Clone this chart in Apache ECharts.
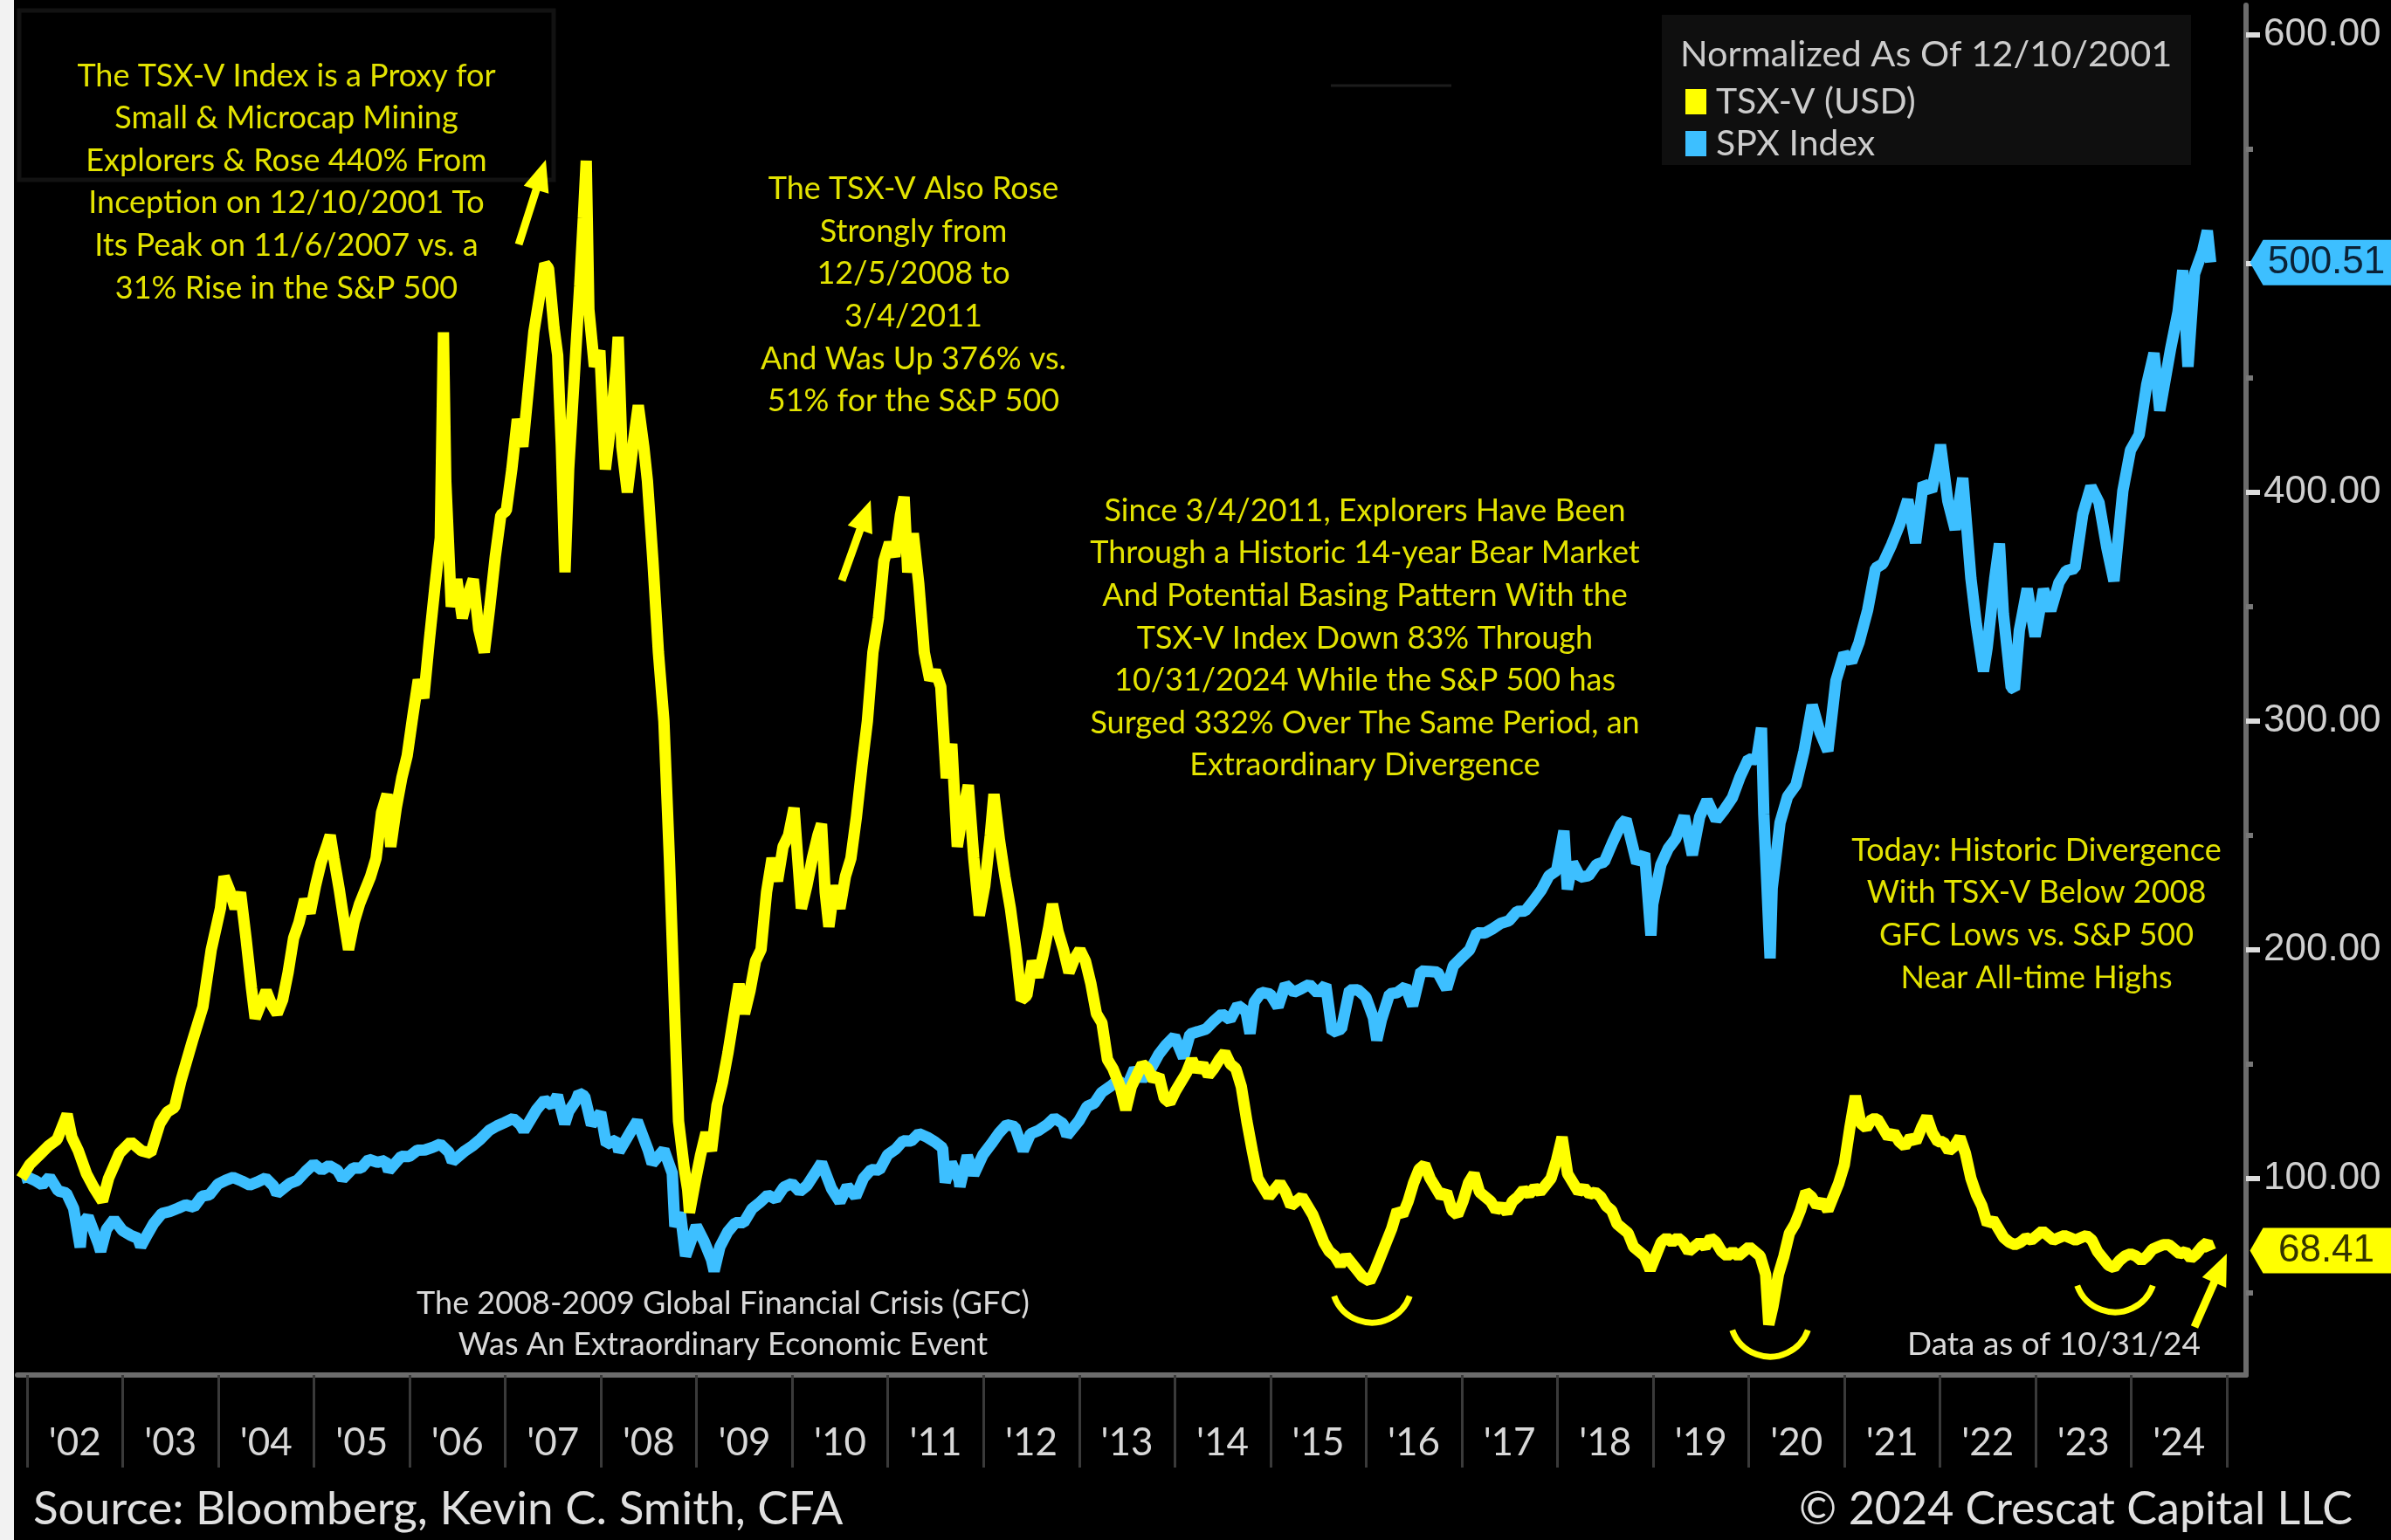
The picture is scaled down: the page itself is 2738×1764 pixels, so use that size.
<!DOCTYPE html>
<html><head><meta charset="utf-8">
<script src="https://cdn.jsdelivr.net/npm/echarts@6/dist/echarts.min.js"></script>
<style>html,body{margin:0;padding:0;background:#000;}#c{width:2738px;height:1764px;}</style>
</head><body><div id="c"></div>
<script>
// ---------------- DATA ----------------
const tsxDates = [
'2001-12-10',
'2002-01-11','2002-02-15','2002-03-22','2002-04-26','2002-06-03','2002-06-21','2002-07-16','2002-08-16','2002-09-13','2002-10-16','2002-11-08','2002-12-20',
'2003-02-01','2003-03-14','2003-04-18','2003-05-23','2003-06-20','2003-07-18','2003-08-12','2003-09-24','2003-11-03','2003-12-05',
'2004-01-09','2004-01-23','2004-02-13','2004-03-05','2004-03-26','2004-04-16','2004-05-07','2004-05-21','2004-06-11','2004-07-02','2004-07-23','2004-08-13','2004-09-03','2004-09-24','2004-10-15','2004-11-05','2004-11-26','2004-12-17',
'2005-01-07','2005-01-28','2005-02-18','2005-03-04','2005-03-18','2005-04-08','2005-04-29','2005-05-13','2005-06-03','2005-06-24','2005-07-15','2005-08-05','2005-08-26','2005-09-16','2005-10-07','2005-10-21','2005-11-11','2005-12-02','2005-12-23',
'2006-01-13','2006-02-03','2006-02-24','2006-03-17','2006-04-07','2006-04-28','2006-05-10','2006-05-19','2006-06-09','2006-06-30','2006-07-21','2006-08-11','2006-09-01','2006-09-22','2006-10-13','2006-11-03','2006-11-24','2006-12-15',
'2007-01-05','2007-01-26','2007-02-16','2007-03-09','2007-03-30','2007-04-20','2007-05-11','2007-06-01','2007-06-15','2007-07-06','2007-07-20','2007-08-03','2007-08-17','2007-08-31','2007-09-21','2007-10-12','2007-10-26','2007-11-06','2007-11-16','2007-12-07','2007-12-28',
'2008-01-18','2008-02-08','2008-02-29','2008-03-07','2008-03-21','2008-04-11','2008-05-02','2008-05-23','2008-06-13','2008-06-27','2008-07-18','2008-08-08','2008-08-29','2008-09-19','2008-10-10','2008-10-24','2008-11-14','2008-11-28','2008-12-05','2008-12-26',
'2009-01-16','2009-02-06','2009-02-27','2009-03-20','2009-04-10','2009-05-01','2009-05-22','2009-06-12','2009-07-03','2009-07-24','2009-08-14','2009-09-04','2009-09-25','2009-10-16','2009-11-06','2009-11-27','2009-12-18',
'2010-01-08','2010-01-22','2010-02-05','2010-02-26','2010-03-19','2010-04-09','2010-04-23','2010-05-07','2010-05-21','2010-06-11','2010-07-02','2010-07-23','2010-08-13','2010-09-03','2010-09-24','2010-10-15','2010-11-05','2010-11-26','2010-12-17',
'2011-01-07','2011-01-28','2011-02-18','2011-03-04','2011-03-18','2011-04-08','2011-04-29','2011-05-20','2011-06-10','2011-07-01','2011-07-22','2011-08-12','2011-09-02','2011-09-23','2011-10-14','2011-11-04','2011-11-25','2011-12-16',
'2012-01-06','2012-01-27','2012-02-10','2012-03-02','2012-03-23','2012-04-13','2012-05-04','2012-05-25','2012-06-15','2012-07-06','2012-07-27','2012-08-17','2012-09-07','2012-09-21','2012-10-12','2012-11-02','2012-11-23','2012-12-14',
'2013-01-04','2013-01-25','2013-02-15','2013-03-08','2013-03-29','2013-04-19','2013-05-10','2013-06-07','2013-06-28','2013-07-19','2013-08-09','2013-08-30','2013-09-20','2013-10-11','2013-11-01','2013-11-22','2013-12-13',
'2014-01-03','2014-01-24','2014-02-14','2014-03-07','2014-03-28','2014-04-18','2014-05-09','2014-05-30','2014-06-20','2014-07-11','2014-08-01','2014-08-22','2014-09-12','2014-10-03','2014-10-24','2014-11-14','2014-12-05','2014-12-26',
'2015-01-16','2015-02-06','2015-02-27','2015-03-20','2015-04-10','2015-05-01','2015-05-22','2015-06-12','2015-07-03','2015-07-24','2015-08-14','2015-09-04','2015-09-25','2015-10-16','2015-11-06','2015-11-27','2015-12-18',
'2016-01-15','2016-02-05','2016-02-26','2016-03-18','2016-04-08','2016-04-29','2016-05-20','2016-06-10','2016-07-01','2016-07-22','2016-08-12','2016-09-02','2016-09-23','2016-10-14','2016-11-04','2016-11-25','2016-12-16',
'2017-01-06','2017-01-27','2017-02-17','2017-03-10','2017-03-31','2017-04-21','2017-05-12','2017-06-02','2017-06-23','2017-07-14','2017-08-04','2017-08-25','2017-09-15','2017-10-06','2017-10-27','2017-11-17','2017-12-08','2017-12-29',
'2018-01-19','2018-02-09','2018-03-02','2018-03-23','2018-04-13','2018-05-04','2018-05-25','2018-06-15','2018-07-06','2018-07-27','2018-08-17','2018-09-07','2018-09-28','2018-10-19','2018-11-09','2018-11-30','2018-12-21',
'2019-01-11','2019-02-01','2019-02-22','2019-03-15','2019-04-05','2019-04-26','2019-05-17','2019-06-07','2019-06-28','2019-07-19','2019-08-09','2019-08-30','2019-09-20','2019-10-11','2019-11-01','2019-11-22','2019-12-13',
'2020-01-03','2020-01-24','2020-02-14','2020-03-06','2020-03-18','2020-04-03','2020-04-24','2020-05-15','2020-06-05','2020-06-26','2020-07-17','2020-08-07','2020-08-28','2020-09-18','2020-10-09','2020-10-30','2020-11-20','2020-12-11',
'2021-01-01','2021-01-22','2021-02-12','2021-03-05','2021-03-26','2021-04-16','2021-05-07','2021-05-28','2021-06-18','2021-07-09','2021-07-30','2021-08-20','2021-09-10','2021-10-01','2021-10-22','2021-11-12','2021-12-03','2021-12-24',
'2022-01-14','2022-02-04','2022-02-25','2022-03-18','2022-04-08','2022-04-29','2022-05-20','2022-06-10','2022-07-01','2022-07-22','2022-08-12','2022-09-02','2022-09-23','2022-10-14','2022-11-04','2022-11-25','2022-12-16',
'2023-01-06','2023-01-27','2023-02-17','2023-03-10','2023-03-31','2023-04-21','2023-05-12','2023-06-02','2023-06-23','2023-07-14','2023-08-04','2023-08-25','2023-09-15','2023-10-06','2023-10-27','2023-11-17','2023-12-08','2023-12-29',
'2024-01-19','2024-02-09','2024-03-01','2024-03-22','2024-04-12','2024-05-03','2024-05-24','2024-06-14','2024-07-05','2024-07-26','2024-08-16','2024-09-06','2024-09-27','2024-10-18','2024-10-31'
];
const tsxValues = [
100,
106,110,114,117,128,118,112,102,96,90,100,111,
116,112,111,124,129,131,143,160,175,200,
218,232,226,218,225,205,183,170,176,182,176,172,178,190,205,212,222,216,
228,238,245,250,240,226,210,200,212,220,226,232,240,260,268,245,262,275,285,
302,318,310,335,358,380,470,405,350,362,345,355,362,340,330,350,372,390,
392,410,432,420,445,470,485,500,498,472,460,420,365,410,450,490,520,545,480,455,462,
410,430,455,468,420,400,420,438,420,405,370,330,300,240,170,125,105,95,85,98,
110,120,112,132,142,155,170,185,172,182,195,200,225,240,230,245,250,
262,240,218,228,240,250,255,225,210,228,218,232,240,258,280,300,330,345,370,
378,372,390,398,365,382,360,330,318,322,315,275,290,245,260,272,240,215,
228,250,268,248,232,218,200,178,180,195,188,198,210,220,208,200,190,196,
200,195,185,172,168,152,148,140,130,140,145,150,148,143,145,135,133,
138,142,146,152,147,150,145,148,152,155,150,148,140,125,112,100,96,92,
95,98,94,88,90,92,88,84,78,72,68,66,62,66,63,60,57,
55,60,66,72,78,86,84,90,98,104,106,100,96,92,94,86,84,
90,98,102,94,92,90,86,88,85,90,92,95,93,96,94,97,100,108,
118,102,98,94,96,93,94,92,88,86,80,78,76,70,68,66,60,
66,72,74,72,74,72,68,70,72,70,74,72,68,66,68,66,68,
70,68,66,58,36,44,58,66,76,80,86,94,92,88,90,86,92,98,
106,122,136,124,122,126,126,122,118,120,116,114,118,116,122,127,120,116,
116,112,114,118,111,100,93,88,80,82,78,74,72,71,72,74,73,
75,77,75,73,74,75,74,73,74,75,73,68,65,62,61,64,66,67,
66,64,66,69,70,71,71,69,67,68,65,67,70,72,68.41
];

const spxDates = [
'2001-12-10','2001-12-31',
'2002-01-31','2002-02-28','2002-03-28','2002-04-30','2002-05-31','2002-06-28','2002-07-23','2002-07-31','2002-08-22','2002-09-30','2002-10-09','2002-10-31','2002-11-29','2002-12-31',
'2003-01-31','2003-02-28','2003-03-11','2003-03-31','2003-04-30','2003-05-30','2003-06-30','2003-07-31','2003-08-29','2003-09-30','2003-10-31','2003-11-28','2003-12-31',
'2004-01-30','2004-02-27','2004-03-31','2004-04-30','2004-05-28','2004-06-30','2004-07-30','2004-08-12','2004-09-30','2004-10-29','2004-11-30','2004-12-31',
'2005-01-31','2005-02-28','2005-03-31','2005-04-20','2005-05-31','2005-06-30','2005-07-29','2005-08-31','2005-09-30','2005-10-13','2005-11-30','2005-12-30',
'2006-01-31','2006-02-28','2006-03-31','2006-04-28','2006-05-31','2006-06-13','2006-07-31','2006-08-31','2006-09-29','2006-10-31','2006-11-30','2006-12-29',
'2007-01-31','2007-02-28','2007-03-13','2007-04-30','2007-05-31','2007-06-29','2007-07-19','2007-08-16','2007-08-31','2007-09-28','2007-10-09','2007-10-31','2007-11-26','2007-12-31',
'2008-01-22','2008-02-29','2008-03-10','2008-04-30','2008-05-19','2008-06-30','2008-07-15','2008-08-29','2008-09-30','2008-10-10','2008-10-31','2008-11-20','2008-12-31',
'2009-01-30','2009-02-27','2009-03-09','2009-03-31','2009-04-30','2009-05-29','2009-06-30','2009-07-31','2009-08-31','2009-09-30','2009-10-30','2009-11-30','2009-12-31',
'2010-01-29','2010-02-26','2010-03-31','2010-04-23','2010-05-31','2010-07-02','2010-07-30','2010-08-31','2010-09-30','2010-10-29','2010-11-30','2010-12-31',
'2011-01-31','2011-02-28','2011-03-31','2011-04-29','2011-05-31','2011-06-30','2011-07-29','2011-08-08','2011-08-31','2011-09-30','2011-10-03','2011-10-31','2011-11-25','2011-12-30',
'2012-01-31','2012-02-29','2012-03-30','2012-04-30','2012-06-01','2012-06-29','2012-07-31','2012-08-31','2012-09-28','2012-10-31','2012-11-15','2012-12-31',
'2013-01-31','2013-02-28','2013-03-28','2013-04-30','2013-05-31','2013-06-24','2013-07-31','2013-08-30','2013-09-30','2013-10-31','2013-11-29','2013-12-31',
'2014-02-03','2014-02-28','2014-03-31','2014-04-30','2014-05-30','2014-06-30','2014-07-31','2014-08-29','2014-09-30','2014-10-15','2014-10-31','2014-11-28','2014-12-31',
'2015-01-30','2015-02-27','2015-03-31','2015-04-30','2015-05-29','2015-06-30','2015-07-31','2015-08-25','2015-09-29','2015-10-30','2015-11-30','2015-12-31',
'2016-01-29','2016-02-11','2016-02-29','2016-03-31','2016-04-29','2016-05-31','2016-06-27','2016-07-29','2016-08-31','2016-09-30','2016-11-04','2016-11-30','2016-12-30',
'2017-01-31','2017-02-28','2017-03-31','2017-04-28','2017-05-31','2017-06-30','2017-07-31','2017-08-31','2017-09-29','2017-10-31','2017-11-30','2017-12-29',
'2018-01-26','2018-02-08','2018-02-28','2018-03-29','2018-04-30','2018-05-31','2018-06-29','2018-07-31','2018-08-31','2018-09-20','2018-10-31','2018-11-30','2018-12-24','2018-12-31',
'2019-01-31','2019-02-28','2019-03-29','2019-04-30','2019-05-31','2019-06-28','2019-07-26','2019-08-30','2019-09-30','2019-10-31','2019-11-29','2019-12-31',
'2020-01-31','2020-02-19','2020-02-28','2020-03-23','2020-03-31','2020-04-30','2020-05-29','2020-06-30','2020-07-31','2020-08-31','2020-09-30','2020-10-30','2020-11-30','2020-12-31',
'2021-01-29','2021-02-26','2021-03-31','2021-04-30','2021-05-28','2021-06-30','2021-07-30','2021-08-31','2021-09-30','2021-10-29','2021-11-30','2021-12-31',
'2022-01-03','2022-01-31','2022-02-28','2022-03-29','2022-04-29','2022-05-20','2022-06-16','2022-06-30','2022-07-29','2022-08-16','2022-08-31','2022-09-30','2022-10-12','2022-10-31','2022-11-30','2022-12-30',
'2023-01-31','2023-02-28','2023-03-31','2023-04-28','2023-05-31','2023-06-30','2023-07-31','2023-08-31','2023-09-29','2023-10-27','2023-11-30','2023-12-29',
'2024-01-31','2024-02-29','2024-03-28','2024-04-19','2024-05-31','2024-06-28','2024-07-16','2024-08-05','2024-08-30','2024-09-30','2024-10-18','2024-10-31'
];
const spxValues = [
100.0,100.7,
99.1,97.1,100.6,94.5,93.6,86.8,69.9,80.0,83.3,71.5,68.1,77.7,82.1,77.2,
75.1,73.8,70.2,74.4,80.4,84.6,85.5,86.9,88.4,87.4,92.2,92.8,97.5,
99.2,100.4,98.8,97.1,98.3,100.1,96.7,93.3,97.8,99.1,103.0,106.3,
103.6,105.6,103.6,99.7,104.6,104.5,108.3,107.0,107.8,103.3,109.6,109.5,
112.3,112.4,113.6,115.0,111.4,107.3,112.0,114.4,117.2,120.9,122.9,124.4,
126.2,123.4,120.8,130.0,134.3,131.9,136.3,123.8,129.3,134.0,137.3,135.9,123.4,128.8,
114.9,116.8,111.7,121.6,125.1,112.3,106.5,112.5,102.3,78.9,85.0,66.0,79.2,
72.4,64.5,59.4,70.0,76.6,80.6,80.6,86.6,89.5,92.7,90.9,96.1,97.8,
94.2,96.8,102.6,106.8,95.5,89.7,96.6,92.0,100.1,103.8,103.6,110.3,
112.8,116.4,116.3,119.6,118.0,115.9,113.3,98.2,106.9,99.2,96.4,109.9,101.6,110.3,
115.1,119.8,123.5,122.6,112.1,119.5,121.0,123.4,126.4,123.9,118.7,125.1,
131.4,132.9,137.6,140.2,143.1,138.0,147.9,143.3,147.6,154.1,158.4,162.1,
152.8,163.1,164.2,165.3,168.8,171.9,169.4,175.7,173.0,163.3,177.0,181.4,180.6,
175.0,184.7,181.4,183.0,184.8,181.0,184.6,163.9,165.3,182.4,182.5,179.3,
170.2,160.4,169.5,180.7,181.2,183.9,175.5,190.7,190.5,190.2,182.9,192.9,196.4,
199.9,207.4,207.3,209.1,211.6,212.6,216.7,216.9,221.0,225.9,232.3,234.6,
252.0,226.4,238.1,231.7,232.3,237.3,238.4,247.0,254.6,257.0,237.9,242.1,206.2,219.9,
237.2,244.2,248.6,258.4,241.4,258.1,265.4,256.7,261.2,266.5,275.5,283.4,
283.0,297.0,259.1,196.2,226.8,255.5,267.0,272.0,286.9,307.0,295.0,286.9,317.7,329.5,
325.8,334.3,348.5,366.8,368.8,377.0,385.5,396.8,377.9,404.0,400.6,418.1,
420.8,396.2,383.7,406.3,362.5,342.2,321.7,332.0,362.3,377.6,346.9,314.6,313.8,339.7,357.9,336.9,
357.6,348.3,360.5,365.7,366.7,390.4,402.6,395.5,376.2,361.2,400.7,418.4,
425.1,447.0,460.9,435.7,463.0,479.0,497.1,454.9,495.5,505.5,514.4,500.51
];

const seriesNames = ['TSX-V (USD)', 'SPX Index'];
const yearTicks = [2002,2003,2004,2005,2006,2007,2008,2009,2010,2011,2012,2013,2014,2015,2016,2017,2018,2019,2020,2021,2022,2023,2024,2025];
const yearLabels = ["'02","'03","'04","'05","'06","'07","'08","'09","'10","'11","'12","'13","'14","'15","'16","'17","'18","'19","'20","'21","'22","'23","'24"];
const yTickValues = [100,200,300,400,500,600];
const yMinorTicks = [50,150,250,350,450,550];

// ---------------- HELPERS ----------------
function toYear(s){const p=s.split('-').map(Number);const t=Date.UTC(p[0],p[1]-1,p[2]);const a=Date.UTC(p[0],0,1),b=Date.UTC(p[0]+1,0,1);return p[0]+(t-a)/(b-a);}
function pairs(d,v){return d.map((s,i)=>[toYear(s),v[i]]);}
const X_MIN = 2001.9, X_MAX = 2025.2, Y_MIN = 14, Y_MAX = 613;
const labelPos = yearLabels.map((_,i)=>yearTicks[i]+0.5);

const tsxData = pairs(tsxDates, tsxValues);
const spxData = pairs(spxDates, spxValues);

const YEL = '#ffff00', BLU = '#3dbfff';
const ANN = '#e3e300', WHT = '#d9d9d9';
const tagPath = 'path://M0,26 L15,0 L175,0 L175,52 L15,52 Z';

function tag(series, color, textColor){
  const last = series[series.length-1][1];
  return {
    silent:true, symbol: tagPath, symbolSize:[175,52], symbolKeepAspect:false, symbolOffset:[92,0],
    itemStyle:{color: color},
    label:{show:true, position:'inside', formatter: p => Number(p.value).toFixed(2), color:textColor, fontSize:44, fontFamily:'Liberation Sans'},
    data:[{coord:[X_MAX, last], value:last}]
  };
}

function arrow(x1,y1,x2,y2){
  const hl=36, hw=30, sw=9;
  const dx=x2-x1, dy=y2-y1, L=Math.hypot(dx,dy), ux=dx/L, uy=dy/L, px=-uy, py=ux;
  const bx=x2-ux*hl, by=y2-uy*hl;
  return {type:'polygon', z:10, shape:{points:[
    [x1+px*sw/2,y1+py*sw/2],[bx+px*sw/2,by+py*sw/2],[bx+px*hw/2,by+py*hw/2],[x2,y2],
    [bx-px*hw/2,by-py*hw/2],[bx-px*sw/2,by-py*sw/2],[x1-px*sw/2,y1-py*sw/2]]}, style:{fill:YEL}};
}
function smile(cx,cy){
  return {type:'arc', z:10, shape:{cx:cx, cy:cy, r:46, startAngle:Math.PI*0.11, endAngle:Math.PI*0.89}, style:{stroke:YEL, lineWidth:7, fill:null}};
}
function txt(x,y,text,opt){
  return {type:'text', z:10, x:x, y:y, style:Object.assign({text:text, fill:ANN, fontSize:36, fontFamily:'Lato', align:'center', verticalAlign:'middle', lineHeight:48.6}, opt||{})};
}

const chart = echarts.init(document.getElementById('c'), null, {renderer:'canvas'});
chart.setOption({
  backgroundColor:'#000',
  animation:false,
  grid:{left:20, right:166, top:6, bottom:189, containLabel:false},
  legend:{
    data: seriesNames, orient:'vertical', left:1925, top:91, itemWidth:24, itemHeight:29, itemGap:7,
    icon:'rect', selectedMode:false,
    textStyle:{color:'#cccccc', fontSize:41, fontFamily:'Lato', padding:[0,0,0,6]}
  },
  xAxis:{
    type:'value', min:X_MIN, max:X_MAX,
    axisLine:{show:true, onZero:false, lineStyle:{color:'#6c6c6c', width:6}},
    axisTick:{show:true, customValues:yearTicks, length:106, lineStyle:{color:'#3a3a3a', width:3}},
    axisLabel:{show:true, customValues:labelPos, margin:56, color:'#d8d8d8', fontSize:44, fontFamily:'Lato',
      formatter: v => yearLabels[Math.round(v - yearTicks[0] - 0.5)] || ''},
    splitLine:{show:false}
  },
  yAxis:[{
    type:'value', position:'right', min:Y_MIN, max:Y_MAX,
    axisLine:{show:true, onZero:false, lineStyle:{color:'#6c6c6c', width:6}},
    axisTick:{show:true, customValues:yTickValues, length:16, lineStyle:{color:'#dddddd', width:6}},
    axisLabel:{show:true, customValues:yTickValues, margin:20, color:'#cfcfcf', fontSize:44, fontFamily:'Liberation Sans',
      formatter: v => Number(v).toFixed(2)},
    splitLine:{show:false}
  },{
    type:'value', position:'right', min:Y_MIN, max:Y_MAX,
    axisLine:{show:false}, axisLabel:{show:false}, splitLine:{show:false},
    axisTick:{show:true, customValues:yMinorTicks, length:8, lineStyle:{color:'#777777', width:6}}
  }],
  series:[
    {name:seriesNames[1], type:'line', data:spxData, showSymbol:false, symbol:'none', z:2,
     itemStyle:{color:BLU}, lineStyle:{color:BLU, width:13, join:'bevel'}, markPoint: tag(spxData, BLU, '#0b2236')},
    {name:seriesNames[0], type:'line', data:tsxData, showSymbol:false, symbol:'none', z:3,
     itemStyle:{color:YEL}, lineStyle:{color:YEL, width:13, join:'bevel'}, markPoint: tag(tsxData, YEL, '#333300')}
  ],
  graphic:[
    {type:'rect', z:0, shape:{x:0, y:0, width:16, height:1764}, style:{fill:'#f2f2f2'}},
    {type:'rect', z:0, shape:{x:22, y:12, width:612, height:194}, style:{fill:null, stroke:'#121212', lineWidth:5}},
    {type:'line', z:0, shape:{x1:1524, y1:98, x2:1662, y2:98}, style:{stroke:'#1c1c1c', lineWidth:3}},
    {type:'rect', z:0, shape:{x:1903, y:17, width:606, height:172}, style:{fill:'#0f0f0f'}},
    txt(1924, 63, 'Normalized As Of 12/10/2001', {fill:'#cccccc', fontSize:41.5, align:'left'}),
    txt(328, 208.5, 'The TSX-V Index is a Proxy for\nSmall & Microcap Mining\nExplorers & Rose 440% From\nInception on 12/10/2001 To\nIts Peak on 11/6/2007 vs. a\n31% Rise in the S&P 500'),
    txt(1046, 338, 'The TSX-V Also Rose\nStrongly from\n12/5/2008 to\n3/4/2011\nAnd Was Up 376% vs.\n51% for the S&P 500'),
    txt(1563, 731, 'Since 3/4/2011, Explorers Have Been\nThrough a Historic 14-year Bear Market\nAnd Potential Basing Pattern With the\nTSX-V Index Down 83% Through\n10/31/2024 While the S&P 500 has\nSurged 332% Over The Same Period, an\nExtraordinary Divergence'),
    txt(2332, 1047, 'Today: Historic Divergence\nWith TSX-V Below 2008\nGFC Lows vs. S&P 500\nNear All-time Highs'),
    txt(828, 1516.5, 'The 2008-2009 Global Financial Crisis (GFC)\nWas An Extraordinary Economic Event', {fill:WHT, lineHeight:47}),
    txt(2352, 1540, 'Data as of 10/31/24', {fill:WHT, fontSize:37}),
    txt(38, 1729, 'Source: Bloomberg, Kevin C. Smith, CFA', {fill:'#e0e0e0', fontSize:53, align:'left'}),
    txt(2694, 1729, '\u00A9 2024 Crescat Capital LLC', {fill:'#e0e0e0', fontSize:52, align:'right'}),
    arrow(594,280,625,183),
    arrow(964,665,997,573),
    arrow(2513,1520,2550,1436),
    smile(1571,1469), smile(2027,1508), smile(2422,1457)
  ]
});
</script></body></html>
